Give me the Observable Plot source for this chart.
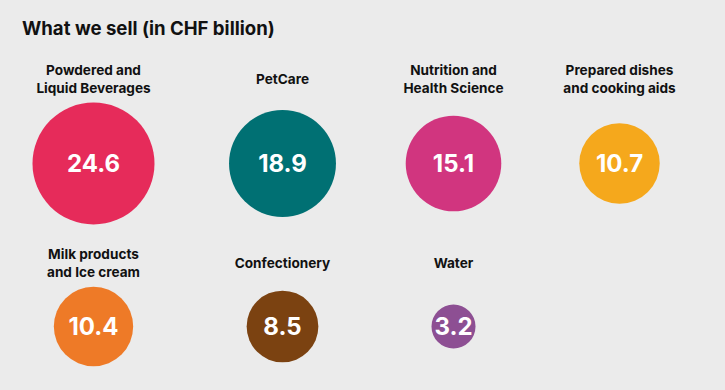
<!DOCTYPE html>
<html>
<head>
<meta charset="utf-8">
<script src="https://cdn.jsdelivr.net/npm/d3@7"></script>
<script src="https://cdn.jsdelivr.net/npm/@observablehq/plot@0.6"></script>
<style>
  html, body { margin: 0; padding: 0; background: #ebebeb; }
  #wrap { width: 725px; height: 390px; background: #ebebeb; font-family: Inter, "Noto Sans", sans-serif; overflow: hidden; }
  #title { height: 50px; box-sizing: border-box; padding: 18px 0 0 22px; font-size: 18.6px; line-height: 20px; font-weight: 700; color: #111; }
  svg { display: block; }
</style>
</head>
<body>
<div id="wrap">
  <div id="title">What we sell (in CHF billion)</div>
  <div id="chart"></div>
</div>
<script>
const categories = [
  "Powdered and\nLiquid Beverages",
  "PetCare",
  "Nutrition and\nHealth Science",
  "Prepared dishes\nand cooking aids",
  "Milk products\nand Ice cream",
  "Confectionery",
  "Water"
];
const sales = [24.6, 18.9, 15.1, 10.7, 10.4, 8.5, 3.2];
const colors = ["#e62b5a", "#007073", "#d1357f", "#f5a81c", "#ee7a27", "#7b4211", "#8d4f93"];
const perRow = 4;

const data = categories.map((c, i) => ({
  category: c,
  value: sales[i],
  col: i % perRow,
  row: Math.floor(i / perRow)
}));

const rScale = {type: "sqrt", domain: [0, d3.max(sales)], range: [0, 61]};
const rFn = Plot.scale({r: rScale});
const rows = d3.groups(data, d => d.row);

const labelMarks = rows.map(([row, items]) => {
  const maxR = rFn.apply(d3.max(items, d => d.value));
  return Plot.text(items, {
    x: "col", y: "row", text: "category",
    dy: -(maxR + 24.5),
    fontSize: 13.6, fontWeight: 700, fill: "#111", lineHeight: 1.32,
    fontFamily: "Inter, sans-serif"
  });
});

const chart = Plot.plot({
  width: 725,
  height: 340,
  margin: 0,
  style: {background: "#ebebeb", fontFamily: "Inter, sans-serif"},
  x: {type: "linear", domain: [0, 1, 2, 3], range: [93, 282, 453, 619], axis: null},
  y: {domain: [0, 1], range: [113, 276], axis: null},
  r: rScale,
  color: {type: "ordinal", domain: categories, range: colors},
  marks: [
    Plot.dot(data, {x: "col", y: "row", r: "value", fill: "category", stroke: null}),
    Plot.text(data, {x: "col", y: "row", text: d => d.value.toFixed(1), fill: "white", fontSize: 24, fontWeight: 700, dy: 1}),
    ...labelMarks
  ]
});
document.getElementById("chart").appendChild(chart);
</script>
</body>
</html>
